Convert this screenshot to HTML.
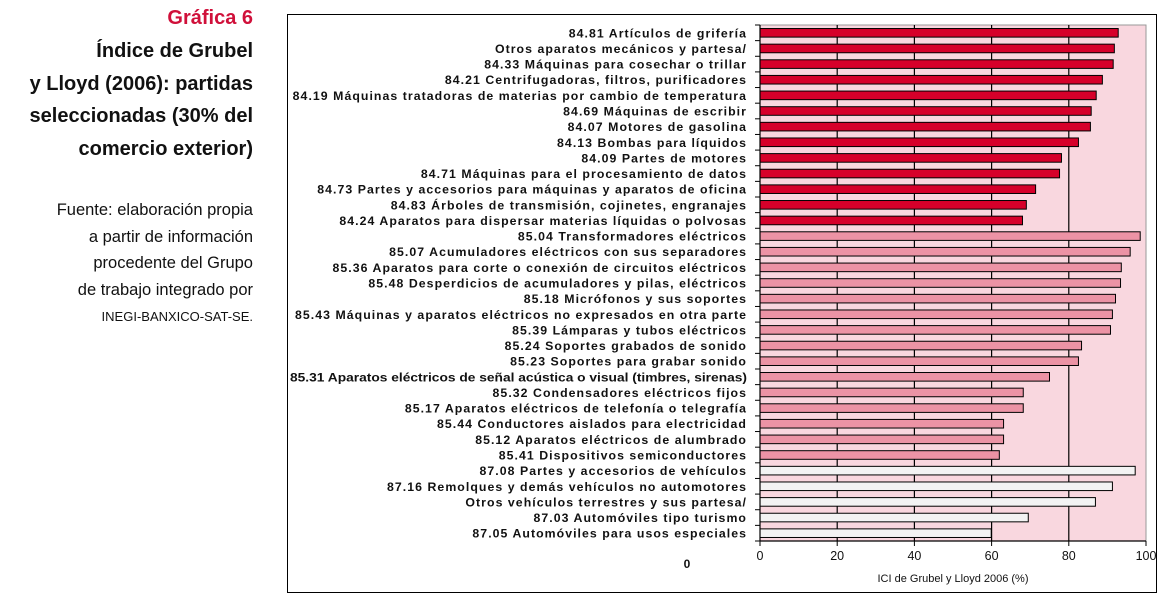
<!DOCTYPE html>
<html><head><meta charset="utf-8">
<style>
html,body{margin:0;padding:0;background:#fff;}
body{width:1163px;height:603px;overflow:hidden;position:relative;font-family:"Liberation Sans",sans-serif;}
.t{position:absolute;right:910px;text-align:right;white-space:nowrap;}
</style></head>
<body>
<div class="t" style="top:7px;font-size:20px;font-weight:bold;color:#d0103a;">Gráfica 6</div>
<div class="t" style="top:35px;font-size:20px;font-weight:bold;line-height:32.5px;color:#111;">Índice de Grubel<br>y Lloyd (2006): partidas<br>seleccionadas (30% del<br>comercio exterior)</div>
<div class="t" style="top:197px;font-size:16.5px;line-height:26.5px;color:#111;">Fuente: elaboración propia<br>a partir de información<br>procedente del Grupo<br>de trabajo integrado por<br><span style="font-size:13px;">INEGI-BANXICO-SAT-SE.</span></div>
<svg id="chart" width="1163" height="603" style="position:absolute;left:0;top:0" xmlns="http://www.w3.org/2000/svg"></svg>
<script>
const categories = ["84.81 Artículos de grifería","Otros aparatos mecánicos y partesa/","84.33 Máquinas para cosechar o trillar","84.21 Centrifugadoras, filtros, purificadores","84.19 Máquinas tratadoras de materias por cambio de temperatura","84.69 Máquinas de escribir","84.07 Motores de gasolina","84.13 Bombas para líquidos","84.09 Partes de motores","84.71 Máquinas para el procesamiento de datos","84.73 Partes y accesorios para máquinas y aparatos de oficina","84.83 Árboles de transmisión, cojinetes, engranajes","84.24 Aparatos para dispersar materias líquidas o polvosas","85.04 Transformadores eléctricos","85.07 Acumuladores eléctricos con sus separadores","85.36 Aparatos para corte o conexión de circuitos eléctricos","85.48 Desperdicios de acumuladores y pilas, eléctricos","85.18 Micrófonos y sus soportes","85.43 Máquinas y aparatos eléctricos no expresados en otra parte","85.39 Lámparas y tubos eléctricos","85.24 Soportes grabados de sonido","85.23 Soportes para grabar sonido","85.31 Aparatos eléctricos de señal acústica o visual (timbres, sirenas)","85.32 Condensadores eléctricos fijos","85.17 Aparatos eléctricos de telefonía o telegrafía","85.44 Conductores aislados para electricidad","85.12 Aparatos eléctricos de alumbrado","85.41 Dispositivos semiconductores","87.08 Partes y accesorios de vehículos","87.16 Remolques y demás vehículos no automotores","Otros vehículos terrestres y sus partesa/","87.03 Automóviles tipo turismo","87.05 Automóviles para usos especiales"];
const values = [92.8,91.8,91.5,88.7,87.1,85.8,85.6,82.5,78.1,77.6,71.4,69.0,68.0,98.5,95.9,93.6,93.4,92.1,91.3,90.8,83.3,82.5,75.0,68.2,68.2,63.1,63.1,62.0,97.2,91.3,86.9,69.5,59.9];
const groups = [0,0,0,0,0,0,0,0,0,0,0,0,0,1,1,1,1,1,1,1,1,1,1,1,1,1,1,1,2,2,2,2,2];
const ticks = [0,20,40,60,80,100];
const axisTitle = "ICI de Grubel y Lloyd 2006 (%)";

const NS="http://www.w3.org/2000/svg";
const svg=document.getElementById('chart');
const X0=760,X1=1146,Y0=25,Y1=541;
const xs=v=>X0+(v/100)*(X1-X0);
const band=(Y1-Y0)/categories.length;
const ys=i=>Y0+i*band;
const fills=["#d6002a","#ec93a5","#f3f3f3"];
function mk(t,a){const e=document.createElementNS(NS,t);for(const k in a)e.setAttribute(k,a[k]);svg.appendChild(e);return e;}

const frame=mk('rect',{x:287.5,y:14.5,width:869,height:578,fill:'none',stroke:'#000','stroke-width':1});


const plot=mk('rect',{x:X0,y:Y0,width:X1-X0,height:Y1-Y0,fill:'#f9d7df',stroke:'#999','stroke-width':1});


ticks.forEach(t=>{
  if(t>0&&t<100){const g=mk('line',{x1:xs(t),x2:xs(t),y1:Y0,y2:Y1,stroke:'#000','stroke-width':1.2});
  
  }
  const tk=mk('line',{x1:xs(t),x2:xs(t),y1:Y1,y2:Y1+5,stroke:'#000'});
  
  
  const lb=mk('text',{x:xs(t),y:Y1+19,'text-anchor':'middle','font-size':12.5,fill:'#111'});
  lb.textContent=t;
  
  
});
for(let i=0;i<=categories.length;i++){
  const tk=mk('line',{x1:X0-5,x2:X0,y1:ys(i),y2:ys(i),stroke:'#000'});
  
  
}
categories.forEach((c,i)=>{
  const h=band*0.55;
  const r=mk('rect',{x:X0,y:ys(i)+(band-h)/2,width:xs(values[i])-X0,height:h,fill:fills[groups[i]],stroke:'#000','stroke-width':1});
  
  
  const t=mk('text',{x:747,y:ys(i)+band/2+4.5,'text-anchor':'end','font-size':12.3,'font-weight':'bold','letter-spacing':'1.05',fill:'#111'});
  t.textContent=c;
  
  
  if(t.getComputedTextLength()>457){t.setAttribute('letter-spacing','0');t.setAttribute('textLength','457');t.setAttribute('lengthAdjust','spacingAndGlyphs');}
});
const ax=mk('line',{x1:X0,x2:X1,y1:Y1,y2:Y1,stroke:'#000','stroke-width':1.2});


const ay=mk('line',{x1:X0,x2:X0,y1:Y0,y2:Y1,stroke:'#000','stroke-width':1.2});


const at=mk('text',{x:(X0+X1)/2,y:582,'text-anchor':'middle','font-size':11,fill:'#111'});
at.textContent=axisTitle;


const z=mk('text',{x:687,y:568,'text-anchor':'middle','font-size':12,'font-weight':'bold',fill:'#111'});
z.textContent='0';


</script>
</body></html>
